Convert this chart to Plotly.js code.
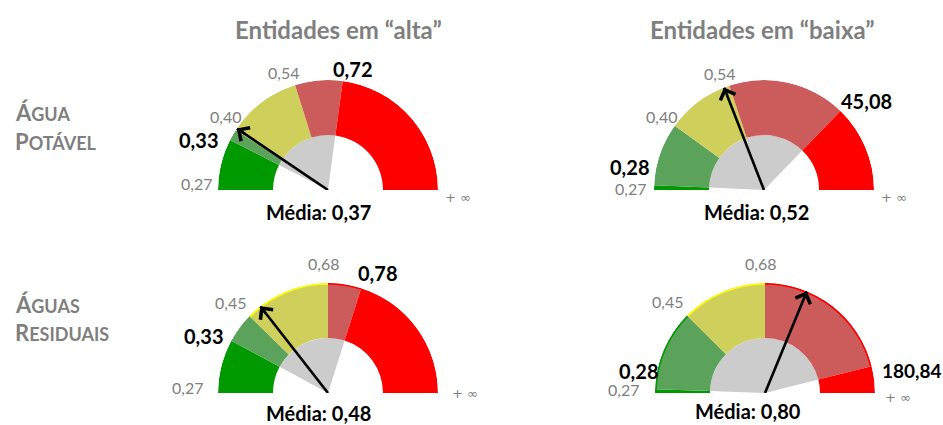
<!DOCTYPE html>
<html><head><meta charset="utf-8">
<script src="https://cdn.plot.ly/plotly-3.0.1.min.js"></script>
<style>html,body{margin:0;padding:0;background:#fff}</style>
</head><body><div id="chart" style="width:943px;height:425px"></div>
<script>
// ---------------- DATA ----------------
const columnTitles = ['Entidades em “alta”', 'Entidades em “baixa”'];
const rowTitles = [['Á','GUA','P','OTÁVEL'], ['Á','GUAS','R','ESIDUAIS']];
const bandColors = ['#009900', '#5ba25b', '#cfcf5c', '#cc5c5c', '#ff0000'];
const rangeColor = '#cccccc';

// angular span (degrees) of each band, as drawn in the picture
const spansAPalta  = [27, 6, 39.6, 25.1, 82.3];
const spansAPbaixa = [2.5, 33.2, 35.9, 62.5, 45.9];
const spansARalta  = [28.4, 16, 45.6, 17.6, 72.4];
const spansARbaixa = [2, 42.8, 45.2, 75.9, 14.1];

// tick labels at band boundaries
const ticksAPalta  = ['0,27', '0,33', '0,40', '0,54', '0,72', '+ ∞'];
const ticksAPbaixa = ['0,27', '0,28', '0,40', '0,54', '45,08', '+ ∞'];
const ticksARalta  = ['0,27', '0,33', '0,45', '0,68', '0,78', '+ ∞'];
const ticksARbaixa = ['0,27', '0,28', '0,45', '0,68', '180,84', '+ ∞'];
const boldTicks = [1, 4];

// mean (needle), as gauge angle in degrees from the left, and its label
const needleAngles = [34, 68.7, 52, 112.4];
const meanLabels = ['0,37', '0,52', '0,48', '0,80'];

// ---------------- LAYOUT CONFIG ----------------
const W = 943, H = 425, R = 110, HOLE = 0.5;
const FONT = 'Lato, "Open Sans", sans-serif';
const centers = [[328, 190], [764, 190], [328, 393], [765, 393]];
const rims = [null, null,
  [null, null, '#ffff00', '#ff0000', null],
  ['#009900', '#009900', '#ffff00', '#ff0000', null]];
// label offsets from each gauge centre (px), order: ticks..., mean
const labelOffsets = [
  [[-132,-6],[-130,-50],[-103,-74],[-45,-118],[24,-121],[130,7],[-10,22]],
  [[-134,-2],[-135,-23],[-103,-73],[-45,-117],[102,-89],[130,8],[-8,22]],
  [[-141,-6],[-125,-57],[-98,-91],[-5,-130],[49,-120],[137,0],[-10,20]],
  [[-142,-4],[-127,-22],[-98,-92],[-5,-130],[147,-23],[133,4],[-17,18]]
];

const gauges = [
  {spans: spansAPalta, ticks: ticksAPalta},
  {spans: spansAPbaixa, ticks: ticksAPbaixa},
  {spans: spansARalta, ticks: ticksARalta},
  {spans: spansARbaixa, ticks: ticksARbaixa}
];

const traces = [];
const layout = {
  width: W, height: H, margin: {l: 0, r: 0, t: 0, b: 0},
  paper_bgcolor: '#fff', showlegend: false, annotations: []
};

gauges.forEach((g, k) => {
  const pid = k === 0 ? 'polar' : 'polar' + (k + 1);
  const [cx, cy] = centers[k];
  let acc = 0; const mids = [], ends = [];
  g.spans.forEach(s => { mids.push(acc + s / 2); acc += s; ends.push(acc); });
  layout[pid] = {
    domain: {x: [(cx - R) / W, (cx + R) / W], y: [1 - cy / H, 1 - (cy - R) / H]},
    sector: [0, 180], hole: 0, bgcolor: 'rgba(0,0,0,0)', barmode: 'overlay', bargap: 0,
    radialaxis: {visible: false, range: [0, 1]},
    angularaxis: {visible: false, rotation: 180, direction: 'clockwise'}
  };
  // gray range sector (between the bold values)
  const gs = ends[0], ge = ends[3];
  traces.push({type: 'barpolar', subplot: pid, theta: [(gs + ge) / 2], width: [ge - gs],
    r: [HOLE], base: [0], marker: {color: rangeColor, line: {width: 0}}, hoverinfo: 'skip'});
  // bands
  traces.push({type: 'barpolar', subplot: pid, theta: mids, width: g.spans,
    r: g.spans.map(() => 1 - HOLE), base: g.spans.map(() => HOLE),
    marker: {color: bandColors, line: {width: 0}}, hoverinfo: 'skip'});
  // thin rims
  if (rims[k]) {
    const idx = rims[k].map((c, i) => c ? i : -1).filter(i => i >= 0);
    traces.push({type: 'barpolar', subplot: pid, theta: idx.map(i => mids[i]), width: idx.map(i => g.spans[i]),
      r: idx.map(() => 0.016), base: idx.map(() => 0.984),
      marker: {color: idx.map(i => rims[k][i]), line: {width: 0}}, hoverinfo: 'skip'});
  }
  // needle shaft
  const na = needleAngles[k];
  traces.push({type: 'scatterpolar', subplot: pid, mode: 'lines', r: [0, 1.0], theta: [na, na],
    line: {color: '#000', width: 2.6}, hoverinfo: 'skip'});
  // arrow head
  const a = (180 - na) * Math.PI / 180;
  const tx = cx + R * Math.cos(a), ty = cy - R * Math.sin(a);
  layout.annotations.push({xref: 'paper', yref: 'paper', x: tx / W, y: 1 - ty / H,
    axref: 'pixel', ayref: 'pixel', ax: -14 * Math.cos(a), ay: 14 * Math.sin(a),
    text: ' ', showarrow: true, arrowhead: 4, arrowsize: 1.2, arrowwidth: 2.6, arrowcolor: '#000', standoff: 0});
  // labels
  const offs = labelOffsets[k];
  g.ticks.forEach((t, i) => {
    const bold = boldTicks.includes(i);
    const inf = i === g.ticks.length - 1;
    const big = bold && t.length > 5;
    layout.annotations.push({xref: 'paper', yref: 'paper', x: (cx + offs[i][0]) / W, y: 1 - (cy + offs[i][1]) / H,
      xanchor: 'center', yanchor: 'middle', showarrow: false,
      text: bold ? '<b>' + t + '</b>' : t,
      font: {family: inf ? '"DejaVu Sans", sans-serif' : FONT, size: bold ? (big ? 19 : 20) : (inf ? 13 : 16),
             color: bold ? '#000' : '#808080'}});
  });
  const mo = offs[offs.length - 1];
  layout.annotations.push({xref: 'paper', yref: 'paper', x: (cx + mo[0]) / W, y: 1 - (cy + mo[1]) / H,
    xanchor: 'center', yanchor: 'middle', showarrow: false,
    text: '<b>Média: ' + meanLabels[k] + '</b>', font: {family: FONT, size: 20, color: '#000'}});
});

// column titles
[[338, 30], [762, 30]].forEach((p, i) => {
  layout.annotations.push({xref: 'paper', yref: 'paper', x: p[0] / W, y: 1 - p[1] / H,
    xanchor: 'center', yanchor: 'middle', showarrow: false,
    text: '<b>' + columnTitles[i] + '</b>', font: {family: FONT, size: 24, color: '#7f7f7f'}});
});
// row titles (small caps)
[[112, 141], [304, 332]].forEach((ys, r) => {
  const t = rowTitles[r];
  [[t[0], t[1]], [t[2], t[3]]].forEach((pair, j) => {
    layout.annotations.push({xref: 'paper', yref: 'paper', x: 13 / W, y: 1 - ys[j] / H,
      xanchor: 'left', yanchor: 'middle', showarrow: false,
      text: '<b><span style="font-size:22px">' + pair[0] + '</span>' + pair[1] + '</b>',
      font: {family: FONT, size: 18, color: '#7f7f7f'}});
  });
});

Plotly.newPlot('chart', traces, layout, {displayModeBar: false, staticPlot: true});
</script></body></html>
